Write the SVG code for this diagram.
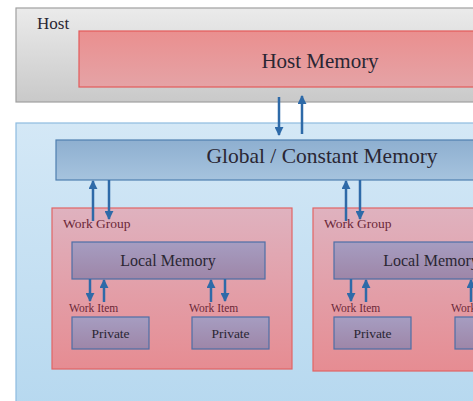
<svg xmlns="http://www.w3.org/2000/svg" width="473" height="401" viewBox="0 0 473 401">
<defs>
<linearGradient id="gHost" x1="0" y1="0" x2="0" y2="1"><stop offset="0" stop-color="#ebebeb"/><stop offset="1" stop-color="#c9c9c9"/></linearGradient>
<linearGradient id="gRed" x1="0" y1="0" x2="0" y2="1"><stop offset="0" stop-color="#ea8f8f"/><stop offset="1" stop-color="#e5a3a6"/></linearGradient>
<linearGradient id="gOuter" x1="0" y1="0" x2="0" y2="1"><stop offset="0" stop-color="#d4e8f6"/><stop offset="1" stop-color="#b6d8ef"/></linearGradient>
<linearGradient id="gGlobal" x1="0" y1="0" x2="0" y2="1"><stop offset="0" stop-color="#8eafd0"/><stop offset="1" stop-color="#a6c3de"/></linearGradient>
<linearGradient id="gWG" x1="0" y1="0" x2="0" y2="1"><stop offset="0" stop-color="#dfb2bf"/><stop offset="1" stop-color="#e68c92"/></linearGradient>
<linearGradient id="gLocal" x1="0" y1="0" x2="0" y2="1"><stop offset="0" stop-color="#a69dc1"/><stop offset="1" stop-color="#9e86a8"/></linearGradient>
<marker id="ah" viewBox="0 0 10 10" refX="9" refY="5" markerWidth="3.6" markerHeight="3.6" orient="auto" markerUnits="strokeWidth"><path d="M0,0 L10,5 L0,10 z" fill="#2e6aa8"/></marker>
<style>
text{font-family:"Liberation Serif","DejaVu Serif",serif;}
.lbl{fill:#2a2633;}
.sm{fill:#6b2838;}
.ar{stroke:#2e6aa8;stroke-width:2.5;fill:none;marker-end:url(#ah);}
</style>
</defs>
<g id="host">
<rect x="16" y="8" width="470" height="94" fill="url(#gHost)" stroke="#a0a0a0" stroke-width="1.2"/>
<text x="37" y="29" font-size="17" class="lbl">Host</text>
</g>
<g id="host-memory">
<rect x="79" y="31" width="420" height="56" fill="url(#gRed)" stroke="#e35a5a" stroke-width="1.2"/>
<text x="320" y="68" font-size="21" text-anchor="middle" class="lbl">Host Memory</text>
</g>
<g id="device">
<rect x="16" y="123" width="470" height="290" fill="url(#gOuter)" stroke="#8ebbe0" stroke-width="1.2"/>
</g>
<g id="global-memory">
<rect x="56" y="140" width="440" height="40" fill="url(#gGlobal)" stroke="#4f7fb0" stroke-width="1.2"/>
<text x="322" y="163" font-size="21.5" text-anchor="middle" class="lbl">Global / Constant Memory</text>
</g>
<g id="work-group-1">
<rect x="52" y="208" width="240" height="161" fill="url(#gWG)" stroke="#e26464" stroke-width="1.2"/>
<text x="63" y="228" font-size="13.5" class="sm">Work Group</text>
</g>
<g id="local-memory-1">
<rect x="72" y="242" width="193" height="37" fill="url(#gLocal)" stroke="#4e6ea6" stroke-width="1.2"/>
<text x="168" y="266" font-size="16" text-anchor="middle" class="lbl">Local Memory</text>
</g>
<g id="private-1a">
<text x="69" y="312" font-size="11.5" class="sm">Work Item</text>
<rect x="72" y="317" width="77" height="32" fill="url(#gLocal)" stroke="#4e6ea6" stroke-width="1.2"/>
<text x="110.5" y="338" font-size="13.5" text-anchor="middle" class="lbl">Private</text>
</g>
<g id="private-1b">
<text x="189" y="312" font-size="11.5" class="sm">Work Item</text>
<rect x="192" y="317" width="77" height="32" fill="url(#gLocal)" stroke="#4e6ea6" stroke-width="1.2"/>
<text x="230.5" y="338" font-size="13.5" text-anchor="middle" class="lbl">Private</text>
</g>
<g id="work-group-2">
<rect x="313" y="208" width="240" height="163" fill="url(#gWG)" stroke="#e26464" stroke-width="1.2"/>
<text x="324" y="228" font-size="13.5" class="sm">Work Group</text>
</g>
<g id="local-memory-2">
<rect x="334" y="242" width="193" height="37" fill="url(#gLocal)" stroke="#4e6ea6" stroke-width="1.2"/>
<text x="431" y="266" font-size="16" text-anchor="middle" class="lbl">Local Memory</text>
</g>
<g id="private-2a">
<text x="331" y="312" font-size="11.5" class="sm">Work Item</text>
<rect x="334" y="317" width="77" height="32" fill="url(#gLocal)" stroke="#4e6ea6" stroke-width="1.2"/>
<text x="372.5" y="338" font-size="13.5" text-anchor="middle" class="lbl">Private</text>
</g>
<g id="private-2b">
<text x="451" y="312" font-size="11.5" class="sm">Work Item</text>
<rect x="455" y="317" width="77" height="32" fill="url(#gLocal)" stroke="#4e6ea6" stroke-width="1.2"/>
</g>
<g id="connectors">
<line class="ar" x1="279" y1="97" x2="279" y2="135"/>
<line class="ar" x1="302" y1="134" x2="302" y2="96"/>
<line class="ar" x1="93" y1="221" x2="93" y2="181"/>
<line class="ar" x1="109" y1="180" x2="109" y2="219"/>
<line class="ar" x1="346" y1="221" x2="346" y2="181"/>
<line class="ar" x1="360" y1="180" x2="360" y2="219"/>
<line class="ar" x1="90" y1="279" x2="90" y2="301"/>
<line class="ar" x1="104" y1="302" x2="104" y2="280"/>
<line class="ar" x1="211" y1="302" x2="211" y2="280"/>
<line class="ar" x1="225" y1="279" x2="225" y2="301"/>
<line class="ar" x1="351" y1="279" x2="351" y2="301"/>
<line class="ar" x1="366" y1="302" x2="366" y2="280"/>
<line class="ar" x1="471" y1="302" x2="471" y2="280"/>
</g>
</svg>
